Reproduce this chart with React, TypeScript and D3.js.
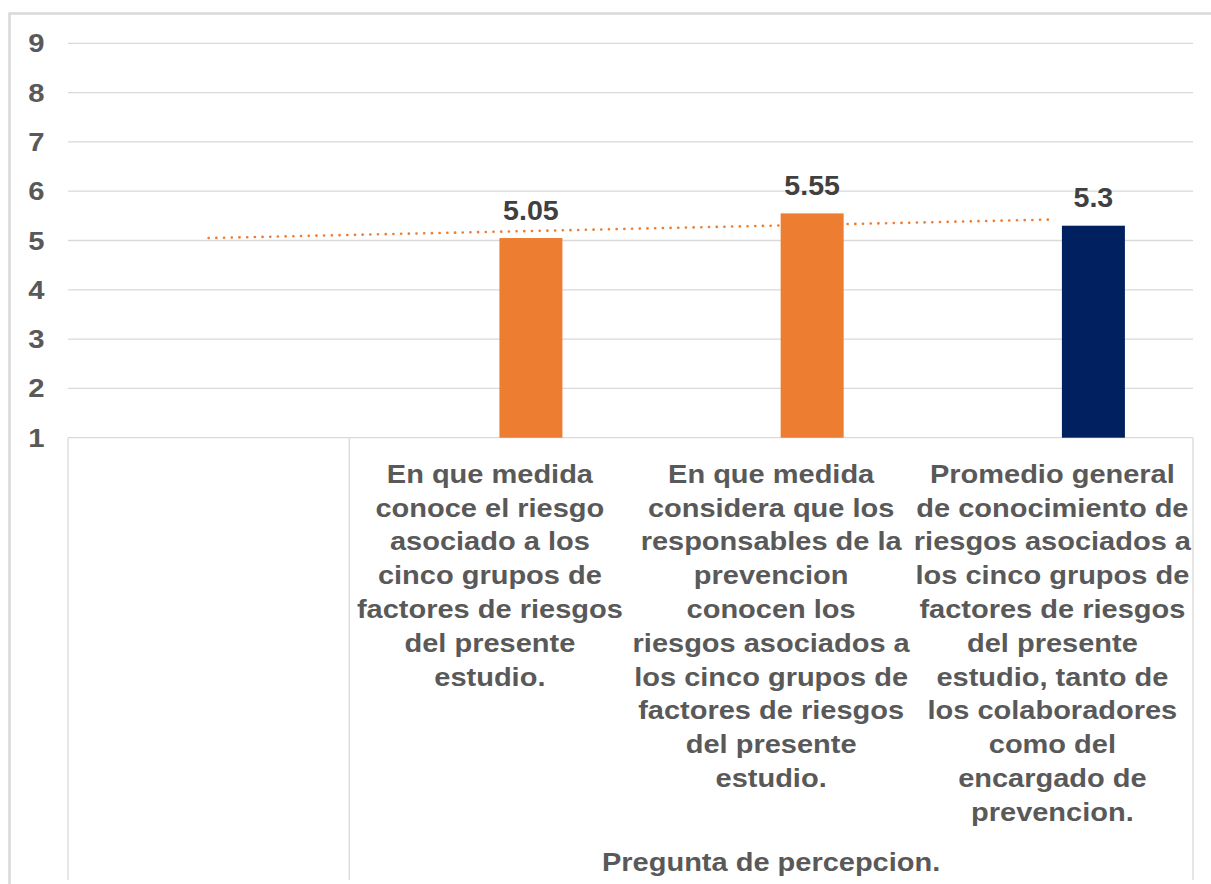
import React from "react";
import * as d3 from "d3";

// category labels, already broken into lines as in the picture
const categoryLines: string[][] = [
  [],
  [
    "En que medida",
    "conoce el riesgo",
    "asociado a los",
    "cinco grupos de",
    "factores de riesgos",
    "del presente",
    "estudio.",
  ],
  [
    "En que medida",
    "considera que los",
    "responsables de la",
    "prevencion",
    "conocen los",
    "riesgos asociados a",
    "los cinco grupos de",
    "factores de riesgos",
    "del presente",
    "estudio.",
  ],
  [
    "Promedio general",
    "de conocimiento de",
    "riesgos asociados a",
    "los cinco grupos de",
    "factores de riesgos",
    "del presente",
    "estudio, tanto de",
    "los colaboradores",
    "como del",
    "encargado de",
    "prevencion.",
  ],
];
const categories = categoryLines.map((l, i) => (l.length ? l.join(" ") : `blank-${i}`));
const values: (number | null)[] = [null, 5.05, 5.55, 5.3];
const groupLabels = ["", "Pregunta de percepcion."];
const groupSpans = [1, 3];
const highlighted = categories[3];
const yDomain: [number, number] = [1, 9];

const width = 1211,
  height = 884,
  left = 68,
  right = 1193,
  top = 43.3,
  bottom = 437.7,
  axisBoxBottom = 880,
  lineGap = 33.8,
  gridColor = "#d9d9d9",
  orange = "#ED7D31",
  navy = "#002060",
  textGray = "#595959",
  font = "'Liberation Sans', Arial, sans-serif";

export default function App() {
  const x = d3.scaleBand().domain(categories).range([left, right]);
  const inner = d3
    .scaleBand()
    .domain(["bar"])
    .range([0, x.bandwidth()])
    .paddingInner(0.776)
    .align(0.688);
  const y = d3.scaleLinear().domain(yDomain).range([bottom, top]);

  // linear trendline (least squares) over the filled categories, drawn from first to last category
  const pts = values
    .map((v, i) => ({ i: i + 1, v }))
    .filter((d) => d.v !== null) as { i: number; v: number }[];
  const mx = d3.mean(pts, (d) => d.i)!;
  const my = d3.mean(pts, (d) => d.v)!;
  const slope =
    d3.sum(pts, (d) => (d.i - mx) * (d.v - my)) / d3.sum(pts, (d) => (d.i - mx) ** 2);
  const trend = (i: number) => my + slope * (i - mx);
  const center = (c: string) => x(c)! + x.bandwidth() / 2;
  const trendLine = d3
    .line<number>()
    .x((i) => center(categories[i - 1]))
    .y((i) => y(trend(i)));

  // group boundaries
  let acc = 0;
  const groups = groupLabels.map((label, g) => {
    const start = x(categories[acc])!;
    acc += groupSpans[g];
    const end = x(categories[acc - 1])! + x.bandwidth();
    return { label, start, end };
  });

  return (
    <svg width={width} height={height} style={{ display: "block", background: "#fff" }}>
      <style>{`body{margin:0}`}</style>
      <path
        d={`M9.5,${height} V13.5 H${width}`}
        fill="none"
        stroke={gridColor}
        strokeWidth={2.5}
      />
      {y.ticks(8).map((t) => (
        <g key={t}>
          <line x1={left} x2={right} y1={y(t)} y2={y(t)} stroke={gridColor} strokeWidth={1.3} />
          <text
            transform={`translate(44.5,${y(t)}) scale(1.17,1)`}
            dy="0.36em"
            textAnchor="end"
            fontFamily={font}
            fontWeight="bold"
            fontSize={25}
            fill={textGray}
          >
            {t}
          </text>
        </g>
      ))}
      {/* multi-level category box */}
      {[left, ...groups.map((g) => g.end)].map((gx, i) => (
        <line
          key={i}
          x1={gx}
          x2={gx}
          y1={bottom}
          y2={axisBoxBottom}
          stroke={gridColor}
          strokeWidth={1.3}
        />
      ))}
      {values.map((v, i) =>
        v === null ? null : (
          <g key={i}>
            <rect
              x={x(categories[i])! + inner("bar")!}
              y={y(v)}
              width={inner.bandwidth()}
              height={y(yDomain[0]) - y(v)}
              fill={categories[i] === highlighted ? navy : orange}
            />
            <text
              transform={`translate(${x(categories[i])! + inner("bar")! + inner.bandwidth() / 2},${
                y(v) - 18.5
              }) scale(1.04,1)`}
              textAnchor="middle"
              fontFamily={font}
              fontWeight="bold"
              fontSize={27.5}
              fill="#404040"
            >
              {v}
            </text>
          </g>
        )
      )}
      <path
        d={trendLine([1, categories.length]) || ""}
        fill="none"
        stroke={orange}
        strokeWidth={2.6}
        strokeLinecap="round"
        strokeDasharray="0.1 7.6"
      />
      {categoryLines.map((lines, i) =>
        lines.map((ln, j) => (
          <text
            key={`${i}-${j}`}
            transform={`translate(${center(categories[i])},${482.7 + j * lineGap}) scale(1.16,1)`}
            textAnchor="middle"
            fontFamily={font}
            fontWeight="bold"
            fontSize={25}
            fill={textGray}
          >
            {ln}
          </text>
        ))
      )}
      {groups.map((g, i) => (
        <text
          key={i}
          transform={`translate(${(g.start + g.end) / 2},871) scale(1.16,1)`}
          textAnchor="middle"
          fontFamily={font}
          fontWeight="bold"
          fontSize={25}
          fill={textGray}
        >
          {g.label}
        </text>
      ))}
    </svg>
  );
}
